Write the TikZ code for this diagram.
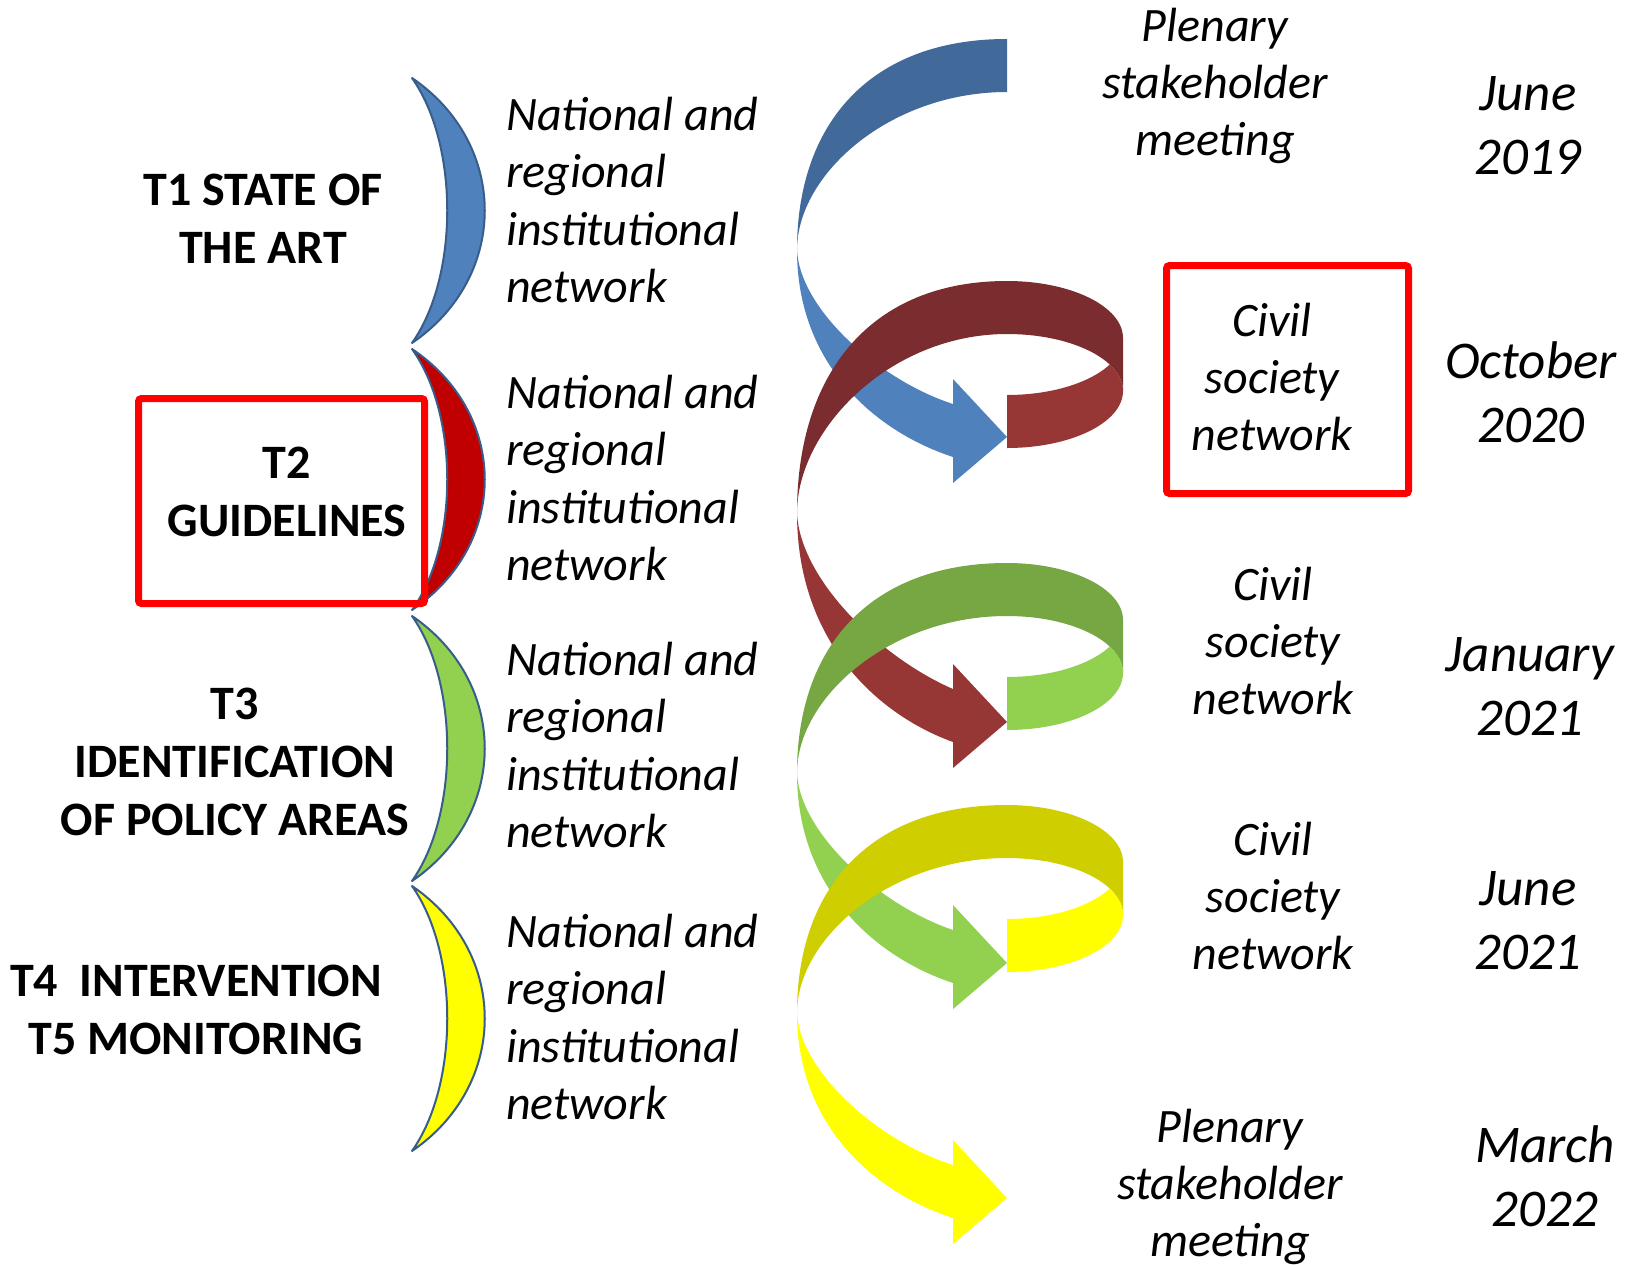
\documentclass[tikz,border=0pt]{standalone}
\usepackage{fontspec}
\setmainfont{Carlito}
\definecolor{bluedark}{RGB}{65,105,154}
\definecolor{bluelight}{RGB}{79,129,189}
\definecolor{reddark}{RGB}{122,44,46}
\definecolor{redlight}{RGB}{150,55,53}
\definecolor{greendark}{RGB}{119,167,67}
\definecolor{greenlight}{RGB}{146,208,80}
\definecolor{yellowdark}{RGB}{206,206,0}
\definecolor{yellowlight}{RGB}{255,255,0}
\definecolor{crescblue}{RGB}{79,129,189}
\definecolor{crescred}{RGB}{192,0,0}
\definecolor{crescline}{RGB}{56,93,138}
\definecolor{boxred}{RGB}{255,0,0}
% upper (back) band: #1 ring top y, #2 convergence y, #3 colour
\newcommand\upperband[3]{%
  \fill[#3] (1007,#1) .. controls (870,#1) and (797,{#2-0.6*(#2-#1)}) .. (797,#2)
    .. controls (797,{#2-0.36*(#2-#1)}) and (890,{#1+53}) .. (1007,{#1+53}) -- cycle;}
% lower (front) band with arrow head: #1 convergence y, #2 length, #3 colour
\newcommand\lowerband[3]{%
  \fill[#3] (797,#1) .. controls (800,{#1+0.29*#2}) and (880,{#1+0.63*#2}) .. (953,{#1+#2-53})
    -- (953,{#1+#2-78}) -- (1007,{#1+#2-20}) -- (953,{#1+#2+26}) -- (953,{#1+#2})
    .. controls (877,{#1+0.88*#2}) and (797,{#1+0.56*#2}) .. (797,#1) -- cycle;}
% ring: #1 top y, #2 dark, #3 light
\newcommand\ringband[3]{%
  \fill[#2] (1007,#1) .. controls (1071,#1) and (1123,{#1+25.5}) .. (1123,{#1+57})
     -- (1123,{#1+110}) .. controls (1123,{#1+78.5}) and (1071,{#1+53}) .. (1007,{#1+53}) -- cycle;
  \begin{scope}
    \clip (1007,{#1-5}) rectangle (1140,{#1+240});
    \clip (1007,{#1+110}) ellipse [x radius=116pt, y radius=57pt];
    \fill[#3, even odd rule] (1000,{#1-5}) rectangle (1140,{#1+240})
      (1007,{#1+57}) ellipse [x radius=116pt, y radius=57pt];
  \end{scope}}
% crescent bracket: #1 top y, #2 height, #3 fill
\newcommand\crescentshape[3]{%
  \filldraw[fill=#3, draw=crescline, line width=2pt, line join=round]
   (412,#1) .. controls (509,{#1+0.25*#2}) and (509,{#1+0.75*#2}) .. (412,{#1+#2})
   .. controls (459,{#1+0.75*#2}) and (459,{#1+0.25*#2}) .. (412,#1) -- cycle;}
\begin{document}
\begin{tikzpicture}[x=1pt,y=-1pt,
  lefttask/.style={font=\fontsize{48}{58}\selectfont\bfseries, align=center, inner sep=0pt},
  netw/.style={font=\fontsize{48}{57.5}\selectfont\itshape, align=left, anchor=west, inner sep=0pt},
  event/.style={font=\fontsize{48}{57}\selectfont\itshape, align=center, inner sep=0pt},
  datetext/.style={font=\fontsize{53}{64}\selectfont\itshape, align=center, inner sep=0pt},
  redbox/.style={draw=boxred, line width=7pt, rounded corners=3pt, inner sep=0pt}]
\useasboundingbox (0,0) rectangle (1629,1264);
\fill[white] (0,0) rectangle (1629,1264);

% brackets
\crescentshape{78}{265}{crescblue}
\crescentshape{349}{261}{crescred}
\crescentshape{616}{265}{greenlight}
\crescentshape{886}{265}{yellowlight}

% spiral
\upperband{39}{250}{bluedark}
\lowerband{250}{207}{bluelight}
\upperband{281}{513}{reddark}
\ringband{281}{reddark}{redlight}
\lowerband{513}{229}{redlight}
\upperband{563}{773}{greendark}
\ringband{563}{greendark}{greenlight}
\lowerband{773}{210}{greenlight}
\upperband{805}{1013}{yellowdark}
\ringband{805}{yellowdark}{yellowlight}
\lowerband{1013}{205}{yellowlight}

% left task labels
\node[lefttask] (t1) at (263,223) {\strut T1 STATE OF\\\strut THE ART};
\node[redbox, minimum width=286pt, minimum height=205pt] (t2box) at (281.5,501) {};
\node[lefttask] (t2) at (287,496) {\strut T2\\\strut GUIDELINES};
\node[lefttask] (t3) at (235,766) {\strut T3\\\strut IDENTIFICATION\\\strut OF POLICY AREAS};
\node[lefttask] (t45) at (196,1014) {\strut T4\ \ INTERVENTION\\\strut T5 MONITORING};

% networks
\node[netw] (n1) at (506,205) {\strut National and\\\strut regional\\\strut institutional\\\strut network};
\node[netw] (n2) at (506,483) {\strut National and\\\strut regional\\\strut institutional\\\strut network};
\node[netw] (n3) at (506,750) {\strut National and\\\strut regional\\\strut institutional\\\strut network};
\node[netw] (n4) at (506,1022) {\strut National and\\\strut regional\\\strut institutional\\\strut network};

% events
\node[event] (e1) at (1215,87) {\strut Plenary\\\strut stakeholder\\\strut meeting};
\node[redbox, minimum width=242pt, minimum height=228pt] (csbox) at (1287.5,379.5) {};
\node[event] (e2) at (1272,382) {\strut Civil\\\strut society\\\strut network};
\node[event] (e3) at (1273,646) {\strut Civil\\\strut society\\\strut network};
\node[event] (e4) at (1273,901) {\strut Civil\\\strut society\\\strut network};
\node[event] (e5) at (1230,1188) {\strut Plenary\\\strut stakeholder\\\strut meeting};

% dates
\node[datetext] (d1) at (1528,130) {\strut June\\\strut 2019};
\node[datetext] (d2) at (1531,398) {\strut October\\\strut 2020};
\node[datetext] (d3) at (1530,691) {\strut January\\\strut 2021};
\node[datetext] (d4) at (1528,925) {\strut June\\\strut 2021};
\node[datetext] (d5) at (1545,1182) {\strut March\\\strut 2022};
\end{tikzpicture}
\end{document}
